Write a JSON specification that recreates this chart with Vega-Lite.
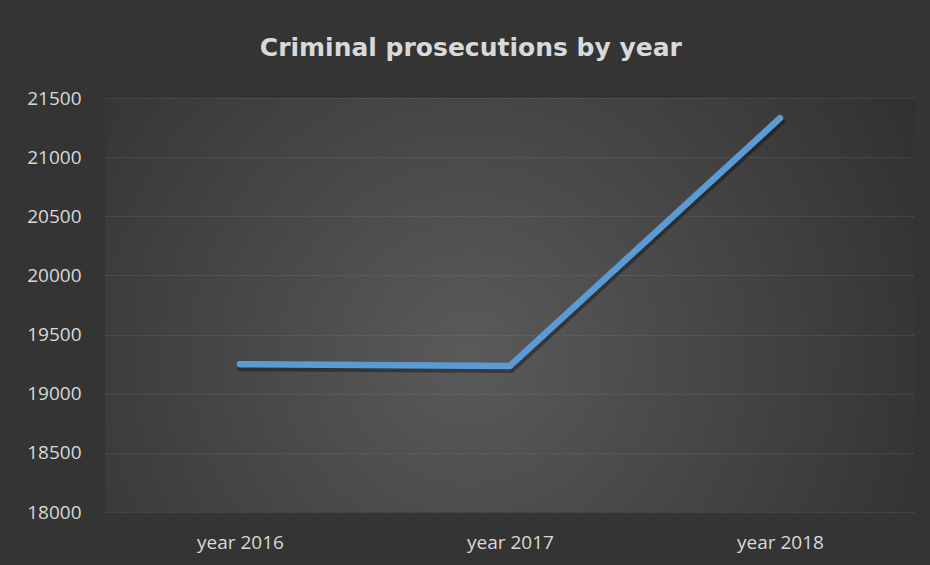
{
  "$schema": "https://vega.github.io/schema/vega-lite/v6.json",
  "width": 930,
  "height": 565,
  "autosize": {"type": "fit", "contains": "padding"},
  "padding": {"left": 26, "top": 36, "right": 15, "bottom": 13},
  "background": "#343434",
  "title": {
    "text": "Criminal prosecutions by year",
    "font": "DejaVu Sans",
    "fontSize": 25,
    "fontWeight": "bold",
    "color": "#d9d9d9",
    "anchor": "middle",
    "frame": "bounds",
    "offset": 28
  },
  "data": {
    "values": [
      {"year": "year 2016", "prosecutions": 19250},
      {"year": "year 2017", "prosecutions": 19235},
      {"year": "year 2018", "prosecutions": 21330}
    ]
  },
  "encoding": {
    "x": {
      "field": "year",
      "type": "ordinal",
      "scale": {"type": "point", "padding": 0.5},
      "axis": {
        "title": null,
        "labelAngle": 0,
        "labelFont": "Open Sans",
        "labelFontSize": 19,
        "labelColor": "#d9d9d9",
        "labelPadding": 21,
        "domain": false,
        "ticks": false,
        "grid": false
      }
    },
    "y": {
      "field": "prosecutions",
      "type": "quantitative",
      "scale": {"domain": [18000, 21500], "nice": false, "zero": false},
      "axis": {
        "title": null,
        "values": [18000, 18500, 19000, 19500, 20000, 20500, 21000, 21500],
        "format": "d",
        "labelFont": "Open Sans",
        "labelFontSize": 19,
        "labelColor": "#d9d9d9",
        "labelPadding": 24,
        "domain": false,
        "ticks": false,
        "grid": true,
        "gridColor": "#9a9a9a",
        "gridOpacity": 0.45,
        "gridDash": [1, 2],
        "gridWidth": 1
      }
    }
  },
  "layer": [
    {
      "mark": {"type": "line", "color": "#000000", "opacity": 0.35, "strokeWidth": 8, "strokeCap": "round", "yOffset": 3, "xOffset": 1}
    },
    {
      "mark": {"type": "line", "color": "#5b9bd5", "strokeWidth": 6.5, "strokeCap": "round", "strokeJoin": "round"}
    }
  ],
  "config": {
    "view": {
      "stroke": null,
      "fill": {
        "gradient": "radial",
        "x1": 0.45, "y1": 0.56, "r1": 0,
        "x2": 0.45, "y2": 0.56, "r2": 0.72,
        "stops": [
          {"offset": 0, "color": "#5a5a5a"},
          {"offset": 1, "color": "#2b2b2b"}
        ]
      }
    }
  }
}
